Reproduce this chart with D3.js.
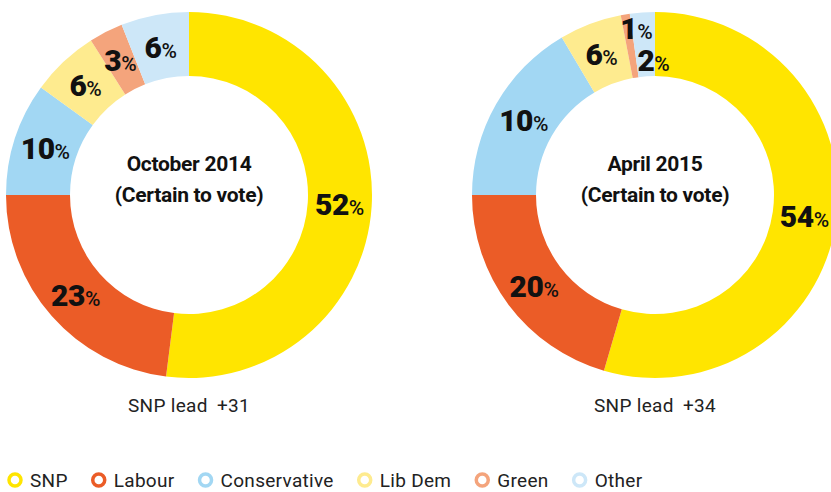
<!DOCTYPE html>
<html>
<head>
<meta charset="utf-8">
<script src="https://cdn.jsdelivr.net/npm/d3@7"></script>
<style>
  body { margin: 0; background: #fff; }
  svg { display: block; font-family: Roboto, "DejaVu Sans", sans-serif; }
</style>
</head>
<body>
<svg id="chart" width="831" height="492"></svg>
<script>
// parties in drawing order (clockwise from 12 o'clock)
var parties = ["SNP", "Labour", "Conservative", "Lib Dem", "Green", "Other"];
var colours = ["#ffe500", "#eb5c27", "#a2d7f3", "#feeb8f", "#f4a47c", "#cde7f8"];

// printed percentages
var oct2014 = [52, 23, 10, 6, 3, 6];
var apr2015 = [54, 20, 10, 6, 1, 2];
// share of the ring each slice takes in the picture (april ring is not to scale)
var oct2014Arcs = [52, 23, 10, 6, 3, 6];
var apr2015Arcs = [54.5, 20.5, 16.5, 5.5, 0.8, 2.2];

var titles = ["October 2014", "April 2015"];
var subtitle = "(Certain to vote)";
var leads = ["SNP lead \u2009+31", "SNP lead \u2009+34"];

var svg = d3.select("#chart");
var outerR = 183, innerR = 119;

var pie = d3.pie().sort(null).value(function(d){ return d.arc; });
var arc = d3.arc().innerRadius(innerR).outerRadius(outerR);

// small nudges for the cramped labels on the april ring
var nudge = { "1-Green": [6, -18], "1-Other": [9, 16] };

var charts = [
	{ cx: 189, vals: oct2014, arcs: oct2014Arcs },
	{ cx: 655, vals: apr2015, arcs: apr2015Arcs }
];

charts.forEach(function(c, i){
	var rows = parties.map(function(p, j){
		return { party: p, value: c.vals[j], arc: c.arcs[j], colour: colours[j] };
	});
	var g = svg.append("g").attr("transform", "translate(" + c.cx + ",195)");

	g.selectAll("path").data(pie(rows)).enter().append("path")
		.attr("d", arc)
		.attr("fill", function(d){ return d.data.colour; });

	var lbl = g.selectAll("text.lbl").data(pie(rows)).enter().append("text")
		.attr("class", "lbl")
		.attr("text-anchor", "middle")
		.attr("fill", "#111")
		.attr("transform", function(d){
			var p = arc.centroid(d);
			var n = nudge[i + "-" + d.data.party] || [0, 0];
			return "translate(" + (p[0] + n[0]) + "," + (p[1] + n[1] + 11) + ")";
		});
	lbl.append("tspan")
		.attr("font-size", 30).attr("font-weight", 900)
		.attr("letter-spacing", -0.5)
		.text(function(d){ return d.data.value; });
	lbl.append("tspan")
		.attr("font-size", 21).attr("font-weight", 500)
		.text("%");

	g.append("text")
		.attr("text-anchor", "middle").attr("y", -24)
		.attr("font-size", 21).attr("font-weight", 700).attr("letter-spacing", -0.3)
		.attr("fill", "#111")
		.text(titles[i]);
	g.append("text")
		.attr("text-anchor", "middle").attr("y", 7)
		.attr("font-size", 21).attr("font-weight", 700).attr("letter-spacing", -0.3)
		.attr("fill", "#111")
		.text(subtitle);

	svg.append("text")
		.attr("x", c.cx).attr("y", 412)
		.attr("text-anchor", "middle")
		.attr("font-size", 19).attr("letter-spacing", 0.3).attr("fill", "#222")
		.text(leads[i]);
});

// legend
var lx = 15;
parties.forEach(function(p, j){
	svg.append("circle")
		.attr("cx", lx).attr("cy", 480).attr("r", 6)
		.attr("fill", "#fff")
		.attr("stroke", colours[j]).attr("stroke-width", 3.5);
	var t = svg.append("text")
		.attr("x", lx + 15).attr("y", 487)
		.attr("font-size", 19).attr("letter-spacing", 0.3).attr("fill", "#222")
		.text(p);
	lx = lx + 15 + t.node().getComputedTextLength() + 31;
});
</script>
</body>
</html>
